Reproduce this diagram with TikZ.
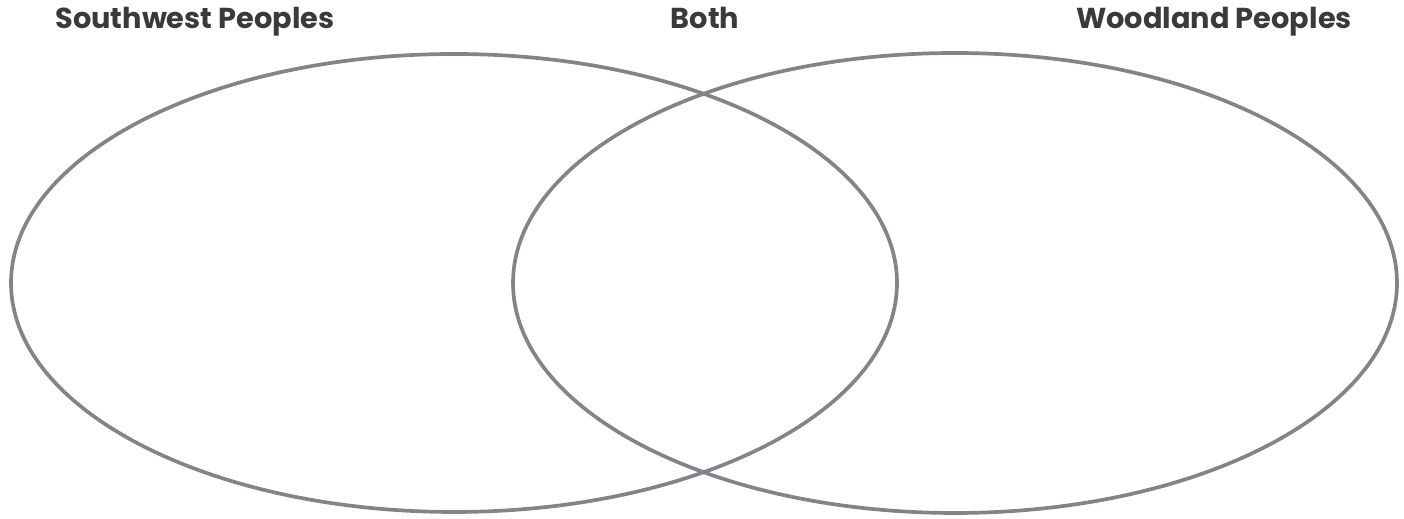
\documentclass[tikz,border=0pt]{standalone}
\usepackage{fontspec}
\setmainfont{Poppins}
\usepackage{xcolor}
\usepackage{tikz}
\usetikzlibrary{positioning}
\definecolor{ink}{HTML}{3A3A3C}
\definecolor{rim}{HTML}{83848B}

\tikzset{
  heading/.style={font=\bfseries\fontsize{16.4}{19}\selectfont,text=ink,inner sep=0pt,anchor=base},
  ring/.style={rim,line width=2.1pt}
}

\begin{document}
\begin{tikzpicture}[x=0.02cm,y=0.02cm]
  \useasboundingbox (0,0) rectangle (1404,519);
  % two overlapping sets
  \coordinate (sw) at (454,236);
  \coordinate (wl) at (955,236);
  \draw[ring] (sw) ellipse [x radius=443,y radius=229];
  \draw[ring] (wl) ellipse [x radius=442,y radius=230];
  \node[heading] (swlabel) at (195,490) {Southwest Peoples};
  \node[heading] (bothlabel) at (705,490) {Both};
  \node[heading] (wllabel) at (1214,490) {Woodland Peoples};
\end{tikzpicture}
\end{document}
